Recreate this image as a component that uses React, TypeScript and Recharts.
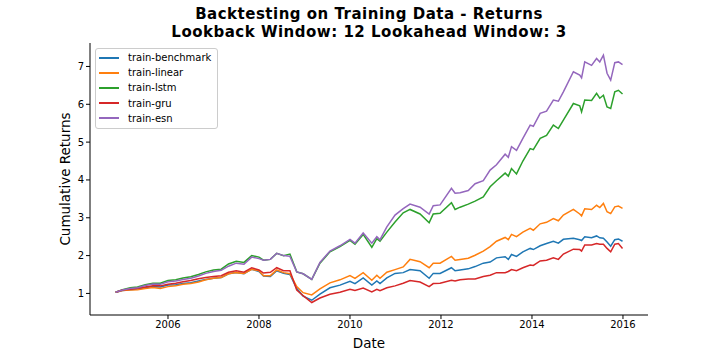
import { LineChart, Line, XAxis, YAxis } from 'recharts'

const FONT = '"DejaVu Sans", sans-serif'

// decimal years
const dates = [
  2004.85, 2005.0, 2005.17, 2005.33, 2005.5, 2005.67, 2005.83, 2006.0, 2006.17, 2006.33,
  2006.5, 2006.67, 2006.83, 2007.0, 2007.17, 2007.33, 2007.5, 2007.67, 2007.84, 2008.0,
  2008.1, 2008.25, 2008.39, 2008.54, 2008.68, 2008.83, 2008.97, 2009.16, 2009.34, 2009.56,
  2009.78, 2010.0, 2010.11, 2010.29, 2010.48, 2010.59, 2010.66, 2010.81, 2010.99, 2011.17,
  2011.32, 2011.54, 2011.74, 2011.83, 2011.98, 2012.23, 2012.31, 2012.42, 2012.6, 2012.75,
  2012.93, 2013.08, 2013.22, 2013.41, 2013.48, 2013.55, 2013.66, 2013.8, 2013.96, 2014.03,
  2014.18, 2014.32, 2014.47, 2014.58, 2014.69, 2014.91, 2015.05, 2015.09, 2015.16, 2015.31,
  2015.42, 2015.49, 2015.57, 2015.65, 2015.73, 2015.82, 2015.9, 2015.99,
]

const benchmark = [
  1.03, 1.08, 1.10, 1.12, 1.15, 1.18, 1.17, 1.22, 1.23, 1.26,
  1.28, 1.33, 1.37, 1.40, 1.42, 1.52, 1.55, 1.52, 1.64, 1.58,
  1.46, 1.45, 1.60, 1.53, 1.50, 1.13, 0.93, 0.82, 0.98, 1.15,
  1.22, 1.32, 1.26, 1.41, 1.22, 1.33, 1.26, 1.41, 1.53, 1.55,
  1.63, 1.60, 1.40, 1.53, 1.53, 1.68, 1.60, 1.62, 1.65, 1.71,
  1.80, 1.83, 1.94, 1.97, 1.90, 2.03, 1.98, 2.10, 2.19, 2.16,
  2.26, 2.32, 2.38, 2.33, 2.43, 2.46, 2.42, 2.40, 2.50, 2.47,
  2.52, 2.47, 2.46, 2.36, 2.25, 2.42, 2.44, 2.38,
]

const linear = [
  1.03, 1.08, 1.09, 1.10, 1.13, 1.16, 1.13, 1.18, 1.20, 1.24,
  1.26, 1.30, 1.36, 1.40, 1.42, 1.52, 1.55, 1.53, 1.64, 1.60,
  1.47, 1.47, 1.62, 1.55, 1.52, 1.18, 1.02, 0.96, 1.12, 1.28,
  1.36, 1.47, 1.40, 1.55, 1.35, 1.48, 1.40, 1.56, 1.63, 1.70,
  1.90, 1.84, 1.68, 1.80, 1.80, 1.98, 1.88, 1.90, 1.93, 2.01,
  2.12, 2.24, 2.38, 2.48, 2.42, 2.56, 2.50, 2.62, 2.72, 2.67,
  2.84, 2.88, 2.98, 2.92, 3.07, 3.22, 3.10, 3.05, 3.24, 3.22,
  3.33, 3.27, 3.38, 3.16, 3.11, 3.29, 3.31, 3.25,
]

const lstm = [
  1.03, 1.10, 1.15, 1.17, 1.23, 1.27, 1.27, 1.34, 1.36, 1.41,
  1.44, 1.50, 1.57, 1.62, 1.64, 1.78, 1.85, 1.82, 2.00, 1.96,
  1.88, 1.90, 2.06, 2.00, 2.04, 1.57, 1.52, 1.37, 1.80, 2.10,
  2.24, 2.40, 2.30, 2.56, 2.22, 2.45, 2.38, 2.62, 2.89, 3.13,
  3.22, 3.10, 2.87, 3.10, 3.12, 3.40, 3.22, 3.28, 3.36, 3.44,
  3.55, 3.82, 3.98, 4.18, 4.10, 4.30, 4.16, 4.50, 4.83, 4.80,
  5.10, 5.18, 5.45, 5.36, 5.58, 6.02, 5.96, 5.80, 6.11, 6.10,
  6.29, 6.16, 6.24, 5.93, 5.89, 6.33, 6.37, 6.27,
]

const gru = [
  1.03, 1.09, 1.11, 1.14, 1.17, 1.20, 1.20, 1.24, 1.27, 1.31,
  1.34, 1.39, 1.42, 1.45, 1.47, 1.56, 1.60, 1.56, 1.68, 1.62,
  1.54, 1.56, 1.68, 1.60, 1.60, 1.09, 0.94, 0.76, 0.88, 0.98,
  1.03, 1.11, 1.08, 1.14, 1.04, 1.11, 1.07, 1.15, 1.20, 1.27,
  1.34, 1.30, 1.18, 1.26, 1.27, 1.35, 1.33, 1.36, 1.38, 1.38,
  1.45, 1.48, 1.55, 1.55, 1.58, 1.63, 1.60, 1.68, 1.75, 1.74,
  1.86, 1.88, 1.94, 1.90, 2.04, 2.17, 2.16, 2.12, 2.28, 2.28,
  2.32, 2.30, 2.30, 2.19, 2.10, 2.30, 2.32, 2.19,
]

const esn = [
  1.03, 1.09, 1.13, 1.15, 1.21, 1.25, 1.24, 1.31, 1.33, 1.37,
  1.40, 1.46, 1.53, 1.58, 1.61, 1.72, 1.80, 1.77, 1.96, 1.92,
  1.88, 1.90, 2.06, 2.00, 1.98, 1.57, 1.52, 1.37, 1.82, 2.12,
  2.26, 2.43, 2.33, 2.60, 2.33, 2.50, 2.42, 2.76, 3.07, 3.24,
  3.36, 3.28, 3.10, 3.32, 3.34, 3.78, 3.65, 3.66, 3.72, 3.90,
  3.98, 4.26, 4.40, 4.68, 4.60, 4.88, 4.78, 5.10, 5.45, 5.42,
  5.76, 5.82, 6.11, 6.08, 6.33, 6.86, 6.77, 6.70, 7.12, 7.03,
  7.21, 7.12, 7.30, 6.82, 6.64, 7.10, 7.12, 7.05,
]

const xTicks = [2006, 2008, 2010, 2012, 2014, 2016]
const yTicks = [1, 2, 3, 4, 5, 6, 7]

const SERIES = [
  { key: 'benchmark', name: 'train-benchmark', color: '#1f77b4', values: benchmark },
  { key: 'linear', name: 'train-linear', color: '#ff7f0e', values: linear },
  { key: 'lstm', name: 'train-lstm', color: '#2ca02c', values: lstm },
  { key: 'gru', name: 'train-gru', color: '#d62728', values: gru },
  { key: 'esn', name: 'train-esn', color: '#9467bd', values: esn },
]

const data = dates.map((date, i) => {
  const row: Record<string, number> = { date }
  SERIES.forEach((s) => (row[s.key] = s.values[i]))
  return row
})

const tickStyle = { fontSize: 10, fill: '#000', fontFamily: FONT }

function ChartLegend() {
  return (
    <div
      style={{
        position: 'absolute',
        left: 95,
        top: 48,
        border: '1px solid #cccccc',
        borderRadius: 3,
        background: 'rgba(255,255,255,0.8)',
        padding: '1px 6px 2px 3px',
        fontFamily: FONT,
        fontSize: 10,
        color: '#000',
      }}
    >
      {SERIES.map((s) => (
        <div key={s.key} style={{ display: 'flex', alignItems: 'center', height: 15.2 }}>
          <span style={{ display: 'inline-block', width: 20, height: 2, background: s.color, marginRight: 9 }} />
          {s.name}
        </div>
      ))}
    </div>
  )
}

export default function App() {
  return (
    <div style={{ position: 'absolute', left: 0, top: 0, width: 720, height: 360, background: '#fff' }}>
      <div
        style={{
          position: 'absolute',
          left: 0,
          width: 738,
          top: 6,
          textAlign: 'center',
          fontFamily: FONT,
          fontWeight: 'bold',
          fontSize: 15,
          letterSpacing: 0.5,
          lineHeight: '17.6px',
          color: '#000',
        }}
      >
        <div>Backtesting on Training Data - Returns</div>
        <div>Lookback Window: 12 Lookahead Window: 3</div>
      </div>
      <LineChart width={720} height={360} data={data} margin={{ top: 43, right: 72, left: 40, bottom: 0 }}>
        <XAxis
          dataKey="date"
          type="number"
          domain={[2004.286, 2016.55]}
          ticks={xTicks}
          allowDataOverflow
          tick={tickStyle}
          tickLine={{ stroke: '#000' }}
          axisLine={{ stroke: '#000' }}
          tickSize={4}
          height={45}
          label={{ value: 'Date', position: 'insideBottom', offset: 12, fontSize: 13.5, fill: '#000', fontFamily: FONT }}
        />
        <YAxis
          type="number"
          domain={[0.43, 7.62]}
          ticks={yTicks}
          allowDataOverflow
          tick={tickStyle}
          tickLine={{ stroke: '#000' }}
          axisLine={{ stroke: '#000' }}
          tickSize={4}
          width={50}
          label={{
            value: 'Cumulative Returns',
            angle: -90,
            position: 'insideLeft',
            offset: 25,
            style: { textAnchor: 'middle' },
            fontSize: 13.5,
            fill: '#000',
            fontFamily: FONT,
          }}
        />
        {SERIES.map((s) => (
          <Line
            key={s.key}
            dataKey={s.key}
            name={s.name}
            stroke={s.color}
            strokeWidth={1.5}
            dot={false}
            type="linear"
            isAnimationActive={false}
          />
        ))}
      </LineChart>
      <ChartLegend />
    </div>
  )
}
